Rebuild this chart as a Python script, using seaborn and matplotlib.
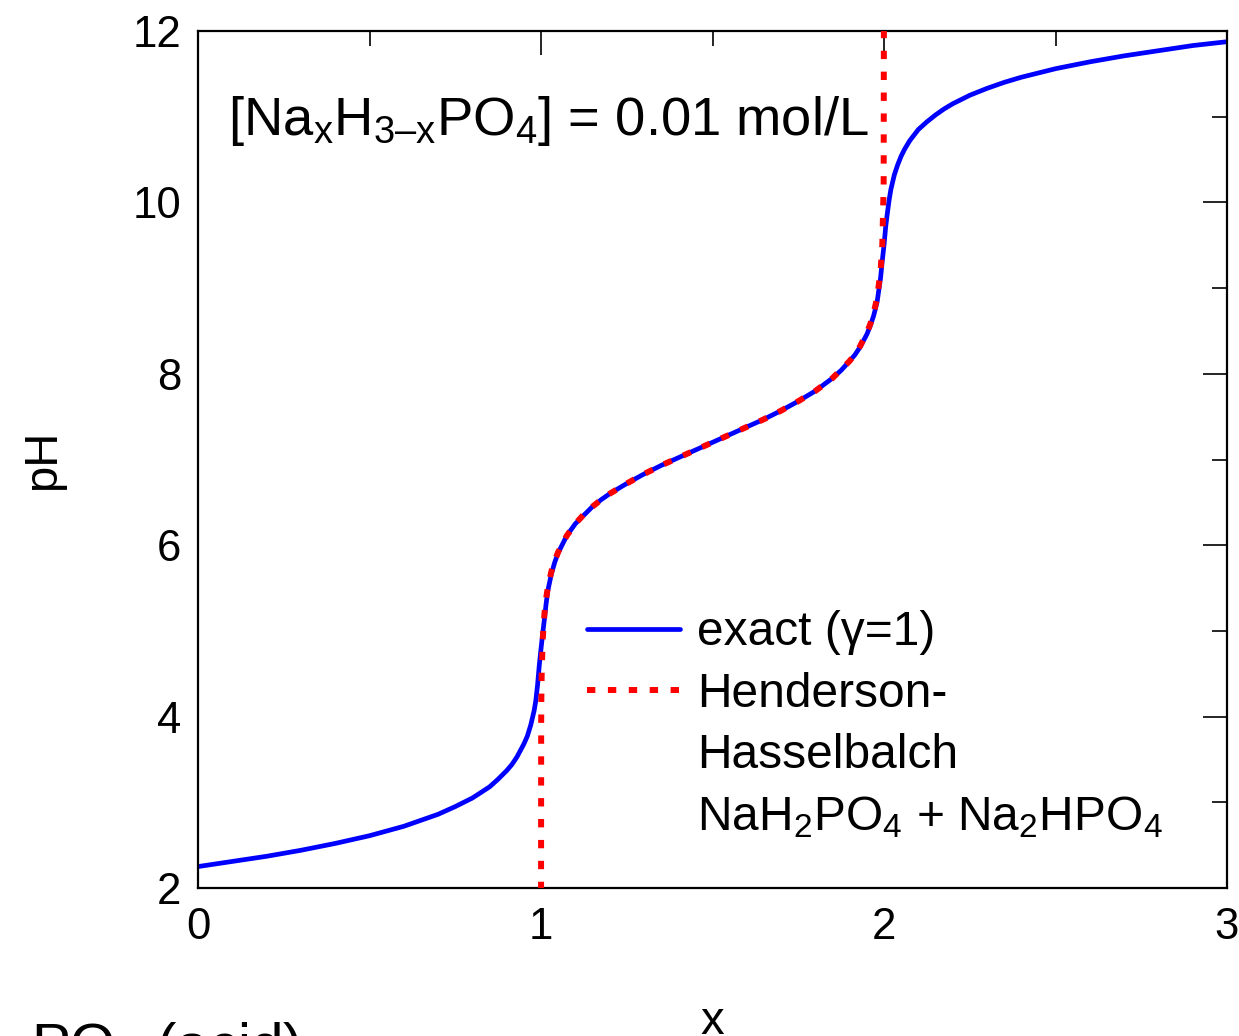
import numpy as np
import matplotlib
matplotlib.use("Agg")
import matplotlib.pyplot as plt
from matplotlib.lines import Line2D
from matplotlib.ticker import MultipleLocator
import seaborn as sns

# exact titration curve (x = Na per PO4)
ExactX = [0.00, 0.10, 0.20, 0.30, 0.40, 0.50, 0.60, 0.70, 0.75, 0.80, 0.85, 0.875,
          0.90, 0.915, 0.93, 0.95, 0.96, 0.97, 0.98, 0.985, 0.99, 0.995, 1.00, 1.005,
          1.01, 1.015, 1.02, 1.03, 1.04, 1.05, 1.075, 1.10, 1.125, 1.15, 1.175, 1.20,
          1.25, 1.30, 1.35, 1.40, 1.45, 1.50, 1.55, 1.60, 1.65, 1.70, 1.75, 1.80,
          1.85, 1.875, 1.90, 1.915, 1.93, 1.95, 1.96, 1.97, 1.98, 1.99, 1.995, 2.00,
          2.005, 2.0075, 2.01, 2.015, 2.02, 2.03, 2.04, 2.05, 2.06, 2.075, 2.10, 2.125,
          2.15, 2.175, 2.20, 2.25, 2.30, 2.35, 2.40, 2.45, 2.50, 2.60, 2.70, 2.80,
          2.90, 3.00]
ExactPH = [2.25, 2.31, 2.37, 2.44, 2.52, 2.61, 2.72, 2.86, 2.95, 3.05, 3.18, 3.27,
           3.37, 3.44, 3.53, 3.68, 3.77, 3.90, 4.07, 4.19, 4.37, 4.60, 4.79, 4.97,
           5.14, 5.32, 5.47, 5.66, 5.80, 5.91, 6.11, 6.25, 6.35, 6.45, 6.53, 6.60,
           6.72, 6.83, 6.93, 7.02, 7.11, 7.20, 7.29, 7.38, 7.47, 7.57, 7.68, 7.80,
           7.95, 8.04, 8.15, 8.22, 8.31, 8.46, 8.56, 8.68, 8.84, 9.12, 9.32, 9.50,
           9.72, 9.80, 9.88, 10.03, 10.15, 10.32, 10.44, 10.54, 10.62, 10.72, 10.85, 10.94,
           11.02, 11.09, 11.15, 11.25, 11.33, 11.40, 11.46, 11.51, 11.56, 11.64, 11.71, 11.77,
           11.83, 11.875]

# Henderson-Hasselbalch buffer curve (NaH2PO4 + Na2HPO4), runs off both ends
HHX = [1.000, 1.0005, 1.001, 1.002, 1.005, 1.01, 1.015, 1.02, 1.03, 1.04, 1.05, 1.075,
       1.10, 1.125, 1.15, 1.175, 1.20, 1.25, 1.30, 1.35, 1.40, 1.45, 1.50, 1.55,
       1.60, 1.65, 1.70, 1.75, 1.80, 1.85, 1.875, 1.90, 1.915, 1.93, 1.95, 1.96,
       1.97, 1.98, 1.99, 1.995, 1.999, 2.000]
HHPH = [1.00, 3.90, 4.20, 4.50, 4.90, 5.20, 5.38, 5.51, 5.69, 5.82, 5.92, 6.11,
        6.25, 6.36, 6.45, 6.53, 6.60, 6.72, 6.83, 6.93, 7.02, 7.11, 7.20, 7.29,
        7.38, 7.47, 7.57, 7.68, 7.80, 7.95, 8.05, 8.15, 8.23, 8.32, 8.48, 8.58,
        8.71, 8.89, 9.20, 9.50, 10.20, 13.00]

XTicks = [0, 1, 2, 3]
YTicks = [2, 4, 6, 8, 10, 12]

sns.set_style("white")
plt.rcParams["font.family"] = ["Liberation Sans", "DejaVu Sans"]
plt.rcParams["mathtext.fontset"] = "custom"
plt.rcParams["mathtext.rm"] = "Liberation Sans"
plt.rcParams["mathtext.it"] = "Liberation Sans:italic"
plt.rcParams["mathtext.bf"] = "Liberation Sans:bold"
for k in ("text.color", "axes.labelcolor", "xtick.color", "ytick.color"):
    plt.rcParams[k] = "black"

fig = plt.figure(figsize=(12.39, 10.36), dpi=100)
ax = fig.add_axes([198/1239, 148/1036, 1029/1239, 857/1036])

sns.lineplot(x=ExactX, y=ExactPH, ax=ax, color="#0000ff", lw=3.4, sort=False,
             estimator=None, legend=False, zorder=2)
sns.lineplot(x=HHX, y=HHPH, ax=ax, color="#ff0000", lw=4.3, sort=False,
             estimator=None, legend=False, zorder=3)
ax.lines[1].set_dashes((1.4, 2.1))
ax.lines[1].set_dash_capstyle("butt")

ax.set_xlim(0, 3)
ax.set_ylim(2, 12)
ax.set_xticks(XTicks)
ax.set_yticks(YTicks)
ax.xaxis.set_minor_locator(MultipleLocator(0.5))
ax.yaxis.set_minor_locator(MultipleLocator(1))
ax.tick_params(which="both", direction="in", top=True, right=True, width=1.2,
               color="black", labelsize=31.5)
ax.tick_params(which="major", length=17)
ax.tick_params(which="minor", length=11)
ax.tick_params(axis="x", pad=14)
ax.tick_params(axis="y", pad=12)
for s in ax.spines.values():
    s.set_color("black")
    s.set_linewidth(1.6)

ax.set_xlabel("x", fontsize=34)
ax.xaxis.label.set_va("baseline")
ax.xaxis.set_label_coords(0.5, -0.1704)
ax.set_ylabel("pH", fontsize=34)
ax.yaxis.label.set_va("center")
ax.yaxis.set_label_coords(-0.1506, 0.5)

ax.text(0.029, 0.8786, "[Na$\\mathregular{_x}$H$\\mathregular{_{3\u2013x}}$PO$\\mathregular{_4}$] = 0.01 mol/L",
        transform=ax.transAxes, fontsize=39.2, va="baseline")

Blank = Line2D([], [], alpha=0)
Handles = [ax.lines[0], ax.lines[1], Blank, Blank]
Labels = ["exact (\u03b3=1)", "Henderson-", "Hasselbalch",
          r"NaH$\mathregular{_2}$PO$\mathregular{_4}$ + Na$\mathregular{_2}$HPO$\mathregular{_4}$"]
ax.legend(Handles, Labels, loc="upper left", bbox_to_anchor=(0.378, 0.324),
          frameon=False, fontsize=34.5, handlelength=1.94, handletextpad=0.36,
          labelspacing=0.34, borderpad=0, borderaxespad=0)

fig.text(-44/1239, -28/1036, r"H$\mathregular{_3}\,$PO$\mathregular{_4}$ (acid)",
         fontsize=42, va="baseline")

fig.savefig("out.png", dpi=100)
